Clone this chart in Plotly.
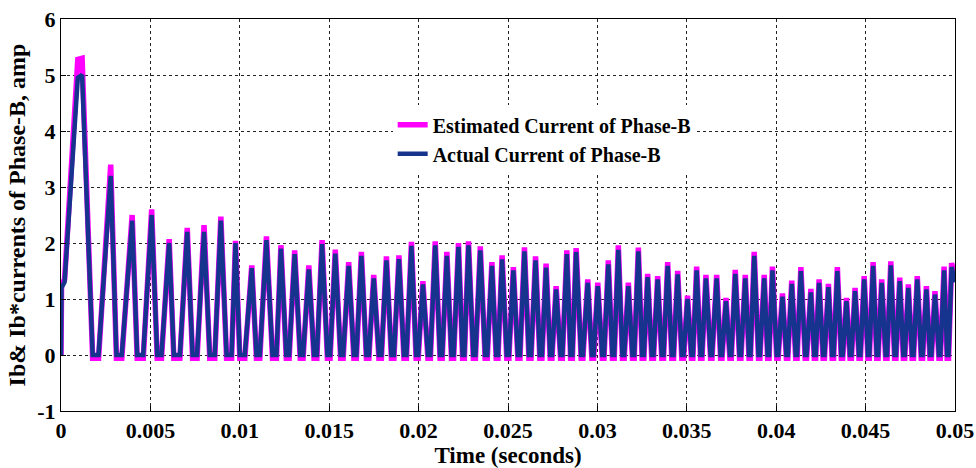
import plotly.graph_objects as go

# Phase-B current: estimated vs actual

# opening of the first pulse (jump, ramp, start of the flat top)
lead_t = [0.0, 0.00003, 0.00020, 0.00094]
lead_act = [0.0, 1.2, 1.3, 4.95]
lead_est = [0.0, 1.25, 1.35, 5.28]

# pulse peaks (first one = end of its flat top)
peak_t = [0.00118, 0.00278, 0.00398, 0.00507, 0.00605, 0.00706, 0.00800, 0.00894, 0.00976, 0.01067,
          0.01149, 0.01230, 0.01307, 0.01386, 0.01460, 0.01534, 0.01609, 0.01680, 0.01749, 0.01820,
          0.01890, 0.01960, 0.02024, 0.02093, 0.02158, 0.02223, 0.02279, 0.02345, 0.02410, 0.02467,
          0.02530, 0.02592, 0.02654, 0.02713, 0.02769, 0.02829, 0.02881, 0.02946, 0.03002, 0.03061,
          0.03117, 0.03173, 0.03229, 0.03281, 0.03337, 0.03393, 0.03449, 0.03504, 0.03555, 0.03607,
          0.03667, 0.03719, 0.03771, 0.03827, 0.03877, 0.03933, 0.03979, 0.04035, 0.04087, 0.04138,
          0.04194, 0.04240, 0.04292, 0.04342, 0.04393, 0.04441, 0.04492, 0.04542, 0.04590, 0.04641,
          0.04691, 0.04739, 0.04789, 0.04840, 0.04888, 0.04939, 0.04981]
peak_act = [5.0, 3.2, 2.4, 2.5, 2.0, 2.2, 2.2, 2.4, 2.0, 1.55,
            2.05, 1.9, 1.8, 1.53, 1.98, 1.81, 1.59, 1.77, 1.37, 1.69,
            1.71, 1.95, 1.26, 1.96, 1.77, 1.93, 1.96, 1.87, 1.59, 1.71,
            1.51, 1.85, 1.69, 1.56, 1.17, 1.8, 1.84, 1.29, 1.23, 1.62,
            1.88, 1.23, 1.85, 1.39, 1.35, 1.59, 1.44, 1.0, 1.51, 1.37,
            1.37, 0.96, 1.45, 1.37, 1.77, 1.37, 1.51, 1.04, 1.27, 1.5,
            1.12, 1.29, 1.21, 1.5, 0.96, 1.14, 1.35, 1.59, 1.29, 1.6,
            1.32, 1.2, 1.35, 1.17, 1.08, 1.51, 1.57]
peak_est = [5.3, 3.4, 2.5, 2.6, 2.07, 2.27, 2.32, 2.47, 2.04, 1.6,
            2.12, 1.96, 1.87, 1.6, 2.05, 1.88, 1.66, 1.84, 1.43, 1.76,
            1.78, 2.02, 1.32, 2.03, 1.84, 2.0, 2.03, 1.94, 1.66, 1.78,
            1.57, 1.92, 1.76, 1.63, 1.23, 1.87, 1.91, 1.35, 1.29, 1.69,
            1.96, 1.29, 1.92, 1.45, 1.41, 1.66, 1.5, 1.06, 1.58, 1.43,
            1.43, 1.02, 1.52, 1.43, 1.84, 1.43, 1.58, 1.1, 1.33, 1.57,
            1.18, 1.35, 1.27, 1.57, 1.02, 1.2, 1.41, 1.66, 1.35, 1.67,
            1.38, 1.26, 1.41, 1.23, 1.14, 1.58, 1.64]

# zero intervals between pulses (start / end)
zero_start = [0.00177, 0.00310, 0.00426, 0.00538, 0.00631, 0.00736, 0.00832, 0.00926, 0.01000, 0.01093,
              0.01183, 0.01260, 0.01338, 0.01415, 0.01490, 0.01564, 0.01638, 0.01708, 0.01778, 0.01848,
              0.01918, 0.01986, 0.02052, 0.02120, 0.02184, 0.02246, 0.02306, 0.02372, 0.02434, 0.02493,
              0.02555, 0.02617, 0.02678, 0.02736, 0.02794, 0.02850, 0.02909, 0.02969, 0.03027, 0.03084,
              0.03140, 0.03196, 0.03250, 0.03304, 0.03360, 0.03416, 0.03472, 0.03526, 0.03577, 0.03633,
              0.03689, 0.03741, 0.03795, 0.03848, 0.03901, 0.03952, 0.04003, 0.04057, 0.04109, 0.04162,
              0.04213, 0.04262, 0.04313, 0.04364, 0.04413, 0.04463, 0.04513, 0.04562, 0.04612, 0.04662,
              0.04711, 0.04760, 0.04811, 0.04860, 0.04910, 0.04956]
zero_end = [0.00210, 0.00340, 0.00460, 0.00562, 0.00665, 0.00761, 0.00860, 0.00954, 0.01028, 0.01112,
            0.01205, 0.01276, 0.01354, 0.01431, 0.01505, 0.01578, 0.01652, 0.01722, 0.01792, 0.01862,
            0.01932, 0.01998, 0.02066, 0.02132, 0.02196, 0.02256, 0.02318, 0.02384, 0.02444, 0.02505,
            0.02567, 0.02629, 0.02690, 0.02746, 0.02804, 0.02860, 0.02919, 0.02979, 0.03037, 0.03094,
            0.03150, 0.03206, 0.03260, 0.03314, 0.03370, 0.03426, 0.03482, 0.03534, 0.03585, 0.03641,
            0.03697, 0.03749, 0.03803, 0.03856, 0.03909, 0.03960, 0.04011, 0.04065, 0.04117, 0.04170,
            0.04221, 0.04270, 0.04321, 0.04372, 0.04421, 0.04471, 0.04521, 0.04570, 0.04620, 0.04670,
            0.04719, 0.04768, 0.04819, 0.04868, 0.04918, 0.04964]
zero_act = [0.0]
zero_est = [-0.06]

# end of window
tail_t = [0.05]
tail_act = [1.3]
tail_est = [1.36]

x_ticks = [0, 0.005, 0.01, 0.015, 0.02, 0.025, 0.03, 0.035, 0.04, 0.045, 0.05]
x_tick_text = ["0", "0.005", "0.01", "0.015", "0.02", "0.025", "0.03", "0.035", "0.04", "0.045", "0.05"]
y_ticks = [-1, 0, 1, 2, 3, 4, 5, 6]
y_tick_text = ["-1", "0", "1", "2", "3", "4", "5", "6"]

# assemble vertex lists
t = list(lead_t)
ia = list(lead_act)
ie = list(lead_est)
for i in range(len(peak_t)):
    t.append(peak_t[i])
    ia.append(peak_act[i])
    ie.append(peak_est[i])
    if i < len(zero_start):
        t += [zero_start[i], zero_end[i]]
        ia += [zero_act[0], zero_act[0]]
        ie += [zero_est[0], zero_est[0]]
t += tail_t
ia += tail_act
ie += tail_est

FONT = "Liberation Serif, Times New Roman, serif"

fig = go.Figure()
fig.add_trace(go.Scatter(
    x=t, y=ie, mode='lines', name='Estimated Current of Phase-B',
    line=dict(color='#ff00ff', width=5.5)
))
fig.add_trace(go.Scatter(
    x=t, y=ia, mode='lines', name='Actual Current of Phase-B',
    line=dict(color='#16338e', width=4.5)
))

axis_common = dict(
    showline=True, linecolor='black', linewidth=1, mirror=True,
    showgrid=True, gridcolor='#222222', gridwidth=1, griddash='3px,3px',
    ticks='inside', ticklen=5, tickcolor='black', zeroline=False,
    tickfont=dict(family=FONT, size=22, color='black', weight='bold'),
)

fig.update_xaxes(
    range=[0, 0.05], tickvals=x_ticks, ticktext=x_tick_text,
    title=dict(text='Time (seconds)', standoff=2,
               font=dict(family=FONT, size=23, color='black', weight='bold')),
    **axis_common
)
fig.update_yaxes(
    range=[-1, 6], tickvals=y_ticks, ticktext=y_tick_text,
    title=dict(text='Ib& Ib*currents of Phase-B, amp', standoff=4,
               font=dict(family=FONT, size=24, color='black', weight='bold')),
    **axis_common
)

fig.update_layout(
    width=976, height=468,
    margin=dict(l=61, r=21, t=19, b=57, autoexpand=False),
    paper_bgcolor='white', plot_bgcolor='white',
    showlegend=True,
    legend=dict(
        x=0.371, y=0.78, xanchor='left', yanchor='top',
        bgcolor='white', borderwidth=0,
        font=dict(family=FONT, size=20, color='black', weight='bold'),
        tracegroupgap=0, itemwidth=30,
    ),
)

# drop the default 8px page margin so the figure fills the window exactly
fig.write_html(
    "out.html",
    config={'displayModeBar': False},
    post_script="document.body.style.margin = '0px';",
)
